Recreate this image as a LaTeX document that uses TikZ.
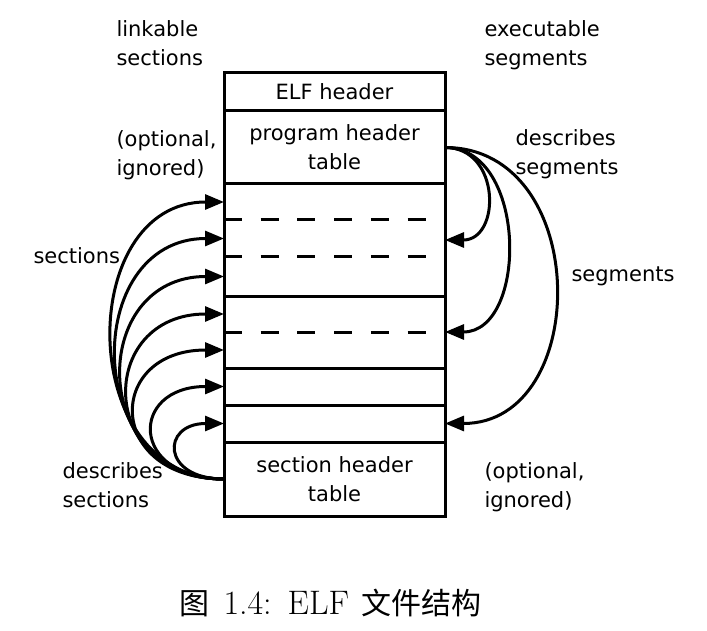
\documentclass[tikz,border=0pt]{standalone}
\usepackage{fontspec}
\usepackage{tikz}
\usetikzlibrary{positioning,fit,arrows.meta}
\newfontfamily\labelfont{DejaVu Sans}
\newfontfamily\cjk{Noto Sans CJK SC}

\begin{document}
\begin{tikzpicture}[x=1pt, y=-1pt, line width=3pt,
    every node/.style={font=\labelfont\fontsize{21}{29}\selectfont},
    part/.style={rectangle, draw=black, minimum width=221pt, inner sep=0pt, outer sep=0pt},
    slot/.style={rectangle, minimum width=221pt, inner sep=0pt, outer sep=0pt},
    note/.style={align=left, anchor=base west, inner sep=0pt},
    link/.style={-{Triangle[length=19pt, width=15pt]}}]
    \useasboundingbox (0,0) rectangle (707,631);

    \node (elf) [part, minimum height=38pt, anchor=north west] at (224,73) {ELF header};
    \node (pht) [part, below=0pt of elf, minimum height=73pt, align=center] {program header\\table};
    \node (s1) [slot, below=0pt of pht, minimum height=36pt] {};
    \node (s2) [slot, below=0pt of s1, minimum height=37pt] {};
    \node (s3) [slot, below=0pt of s2, minimum height=39pt] {};
    \node (s4) [slot, below=0pt of s3, minimum height=36pt] {};
    \node (s5) [slot, below=0pt of s4, minimum height=36pt] {};
    \node (s6) [part, below=0pt of s5, minimum height=37pt] {};
    \node (s7) [part, below=0pt of s6, minimum height=37pt] {};
    \node (sht) [part, below=0pt of s7, minimum height=74pt, align=center] {section header\\table};
    \node (seg1) [part, fit=(s1)(s3)] {};
    \node (seg2) [part, fit=(s4)(s5)] {};

    \foreach \s in {s1,s2,s4}
        \draw[dash pattern=on 18pt off 18.7pt] (\s.south west) -- (\s.south east);

    \foreach \s/\d in {s1/149, s2/143, s3/136, s4/128, s5/119, s6/95, s7/63}
        \draw[link] (sht.west) .. controls +(-\d,0) and +(-\d,0) .. (\s.west);
    \foreach \s/\d in {seg1/56, seg2/83, s7/147}
        \draw[link] (pht.east) .. controls +(\d,0) and +(\d,0) .. (\s.east);

    \node (linkable) [note] at (115,66) {linkable\\sections};
    \node (optleft) [note] at (115,176) {(optional,\\ignored)};
    \node (sections) [note] at (32,263) {sections};
    \node (descsec) [note] at (61,507) {describes\\sections};
    \node (exec) [note] at (483,66) {executable\\segments};
    \node (descseg) [note] at (514,175) {describes\\segments};
    \node (segments) [note] at (570,281) {segments};
    \node (optright) [note] at (483,507) {(optional,\\ignored)};

    \node (caption) [anchor=base west, inner sep=0pt, font=\rmfamily\fontsize{34}{40}\selectfont] at (178,614)
        {{\cjk\fontsize{30}{36}\selectfont 图}\hspace{14pt}1.4:\hspace{16pt}ELF\hspace{12pt}{\cjk\fontsize{30}{36}\selectfont 文件结构}};
\end{tikzpicture}
\end{document}
